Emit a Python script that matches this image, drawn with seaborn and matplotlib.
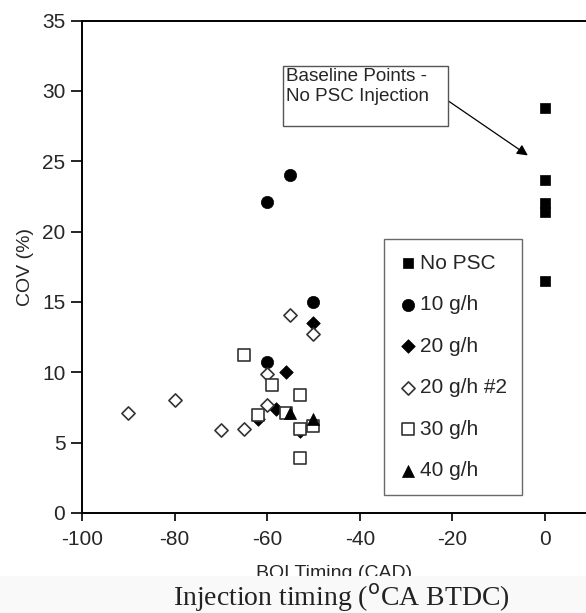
import matplotlib
matplotlib.use("Agg")
import matplotlib.pyplot as plt
import seaborn as sns
import pandas as pd
from matplotlib.patches import Rectangle

sns.set_style("white")
plt.rcParams['font.family'] = ['Liberation Sans', 'DejaVu Sans']
plt.rcParams['axes.unicode_minus'] = False

# ---- data ----
nopsc_x = [0, 0, 0, 0, 0]
nopsc_y = [28.8, 23.7, 22.0, 21.4, 16.5]
g10_x = [-60, -55, -50, -60]
g10_y = [22.1, 24.0, 15.0, 10.7]
g20_x = [-50, -56, -58, -62, -53]
g20_y = [13.5, 10.0, 7.4, 6.7, 5.8]
g20b_x = [-90, -80, -70, -65, -60, -60, -55, -50]
g20b_y = [7.1, 8.0, 5.9, 6.0, 7.7, 9.9, 14.1, 12.7]
g30_x = [-65, -59, -62, -56, -53, -53, -53, -50]
g30_y = [11.2, 9.1, 7.0, 7.1, 8.4, 6.0, 3.9, 6.2]
g40_x = [-55, -50]
g40_y = [7.1, 6.7]

series = [
    ("No PSC", nopsc_x, nopsc_y, "s", "black", "black", 62),
    ("10 g/h", g10_x, g10_y, "o", "black", "black", 78),
    ("20 g/h", g20_x, g20_y, "D", "black", "black", 48),
    ("20 g/h #2", g20b_x, g20b_y, "D", "white", "#333333", 45),
    ("30 g/h", g30_x, g30_y, "s", "white", "#333333", 72),
    ("40 g/h", g40_x, g40_y, "^", "black", "black", 75),
]

fig = plt.figure(figsize=(5.86, 6.13), dpi=100)
ax = fig.add_axes([82/586, 1-513/613, 1-82/586, (513-20.5)/613])

for name, xs, ys, m, fc, ec, sz in series:
    df = pd.DataFrame({"x": xs, "y": ys})
    sns.scatterplot(data=df, x="x", y="y", marker=m, s=sz,
                    color=fc, edgecolor=ec, linewidth=1.2 if fc == "white" else 0.5,
                    ax=ax, label=name, zorder=3)

ax.set_xlim(-100, 8.86)
ax.set_ylim(0, 35)
ax.set_xticks([-100, -80, -60, -40, -20, 0])
ax.set_yticks([0, 5, 10, 15, 20, 25, 30, 35])
ax.tick_params(axis='both', direction='out', width=1.2, labelsize=15,
               bottom=True, left=True, color='black', pad=4)
ax.tick_params(axis='y', length=8)
ax.tick_params(axis='x', length=6, pad=6)
for s in ['left', 'bottom', 'top']:
    ax.spines[s].set_color('black')
    ax.spines[s].set_linewidth(1.4)
ax.spines['right'].set_visible(False)
ax.set_xlabel("BOI Timing (CAD)", fontsize=14, labelpad=12)
ax.set_ylabel("COV (%)", fontsize=14, labelpad=6)

leg = ax.legend(loc='upper left', bbox_to_anchor=((384-82)/504, (513-239)/492.5),
                fontsize=15, frameon=True, fancybox=False, edgecolor='#444444',
                labelspacing=1.08, handletextpad=0.15, handlelength=0.9,
                borderpad=0.7, borderaxespad=0, markerscale=1.0)
leg.get_frame().set_linewidth(1.0)

# annotation box
ax.annotate("", xy=(-3.2, 25.3), xytext=(-21.4, 29.4),
            arrowprops=dict(arrowstyle='-|>', color='black', lw=0.9,
                            mutation_scale=16), zorder=4)
ax.add_patch(Rectangle((-56.6, 27.5), 35.6, 4.3, facecolor='white',
                       edgecolor='#555555', lw=1.0, zorder=5))
ax.text(-56.0, 31.6, "Baseline Points -\nNo PSC Injection", fontsize=13.6,
        va='top', ha='left', linespacing=1.2, zorder=6)

# bottom strip and caption
fig.patches.append(Rectangle((0, 0), 1, 1-576/613, transform=fig.transFigure,
                             facecolor='#f9f9f9', edgecolor='none', zorder=10))
fig.text(341/586, 1-598/613, "Injection timing ($^{\\mathrm{o}}$CA BTDC)",
         family=['Liberation Serif', 'DejaVu Serif'], fontsize=20,
         ha='center', va='center', zorder=11, color='#222222')

fig.savefig("out.png", dpi=100)
